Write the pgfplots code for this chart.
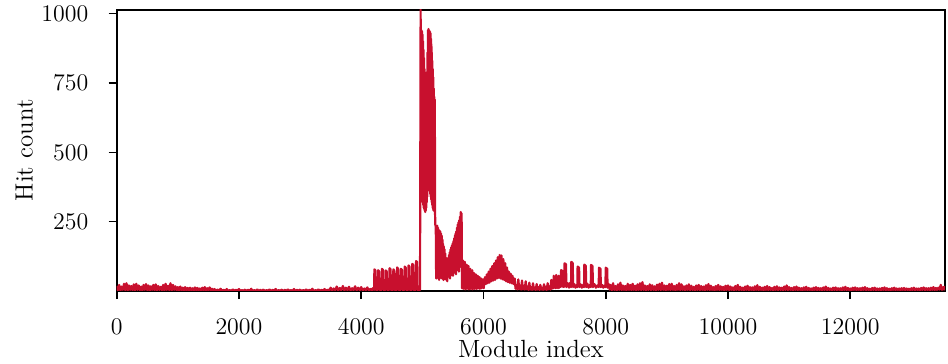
\documentclass[border=0pt]{standalone}
\usepackage{pgfplots}
\pgfplotsset{compat=1.18}
\definecolor{hitred}{RGB}{200,16,46}
\begin{document}
\begin{tikzpicture}
\path[use as bounding box] (-58.35bp,-36.5bp) rectangle (415.65bp,145.5bp);
\begin{axis}[
  at={(0,0)}, anchor=south west, scale only axis,
  width=414.15bp, height=140.75bp,
  xmin=0, xmax=13550, ymin=0, ymax=1015,
  xtick={0,2000,4000,6000,8000,10000,12000},
  ytick={250,500,750,1000},
  xtick pos=left, ytick pos=left,
  tick align=outside, major tick length=4bp,
  tick style={black, line width=0.8bp},
  axis line style={black, line width=1bp},
  scaled x ticks=false, scaled y ticks=false,
  x tick label style={/pgf/number format/1000 sep={}},
  y tick label style={/pgf/number format/1000 sep={}},
  tick label style={font=\fontsize{12}{14}\selectfont},
  label style={font=\fontsize{12.5}{15}\selectfont},
  xticklabel style={anchor=north, inner sep=0pt, yshift=-10bp},
  yticklabel style={anchor=east, inner sep=0pt, xshift=-10bp},
  xlabel={Module index}, ylabel={Hit count},
  xlabel style={at={(axis description cs:0.5,-0.238)}, anchor=base},
  ylabel style={at={(axis description cs:-0.1014,0.5)}, anchor=base, rotate=0},
]
\addplot[hitred, line width=1.1bp, line join=round, mark=none] table {
0 18
20 3
40 22
60 2
80 16
100 4
120 26
140 3
160 28
180 2
200 20
220 4
240 18
260 3
280 24
300 2
320 26
340 4
360 20
380 3
400 16
420 2
440 22
460 4
480 25
500 3
520 20
540 2
560 17
580 4
600 22
620 3
640 24
660 2
680 18
700 4
720 15
740 3
760 22
780 2
800 26
820 4
840 19
860 3
880 28
900 2
920 22
940 4
960 17
980 3
1000 14
1020 2
1040 16
1060 3
1080 12
1100 2
1120 14
1140 3
1160 11
1180 2
1200 12
1220 3
1240 10
1260 2
1280 13
1300 3
1320 11
1340 2
1360 9
1380 3
1400 12
1420 2
1440 14
1460 3
1480 10
1500 2
1520 13
1540 3
1560 8
1580 2
1600 7
1625 1
1650 5
1675 1
1700 8
1725 0
1750 4
1775 1
1800 7
1825 0
1850 3
1875 1
1900 6
1925 0
1950 4
1975 1
2000 7
2025 0
2050 3
2075 1
2100 5
2125 0
2150 4
2175 1
2200 8
2225 0
2250 3
2275 1
2300 6
2325 0
2350 4
2375 1
2400 5
2425 0
2450 3
2475 1
2500 6
2525 0
2550 4
2575 1
2600 7
2625 0
2650 3
2675 1
2700 5
2725 0
2750 4
2775 1
2800 6
2825 0
2850 3
2875 1
2900 7
2925 0
2950 4
2975 1
3000 5
3025 0
3050 3
3075 1
3100 6
3125 0
3150 4
3175 1
3200 8
3225 0
3250 3
3275 1
3300 6
3325 0
3350 4
3375 1
3400 7
3425 0
3450 5
3475 1
3500 12
3525 2
3550 9
3575 3
3600 16
3625 2
3650 11
3675 3
3700 18
3725 2
3750 12
3775 3
3800 15
3825 2
3850 10
3875 3
3900 17
3925 2
3950 12
3975 3
4000 14
4025 2
4050 9
4075 3
4100 13
4125 2
4150 8
4175 3
4190 10
4210 4
4216 78
4232 74
4238 4
4272 4
4278 75
4294 70
4300 4
4334 4
4340 80
4356 76
4362 4
4396 4
4402 74
4418 70
4424 4
4458 4
4464 82
4480 78
4486 4
4520 4
4526 78
4542 74
4548 4
4582 4
4588 85
4604 80
4610 4
4644 4
4650 80
4666 76
4672 4
4706 4
4712 88
4728 84
4734 4
4768 4
4774 92
4790 88
4796 4
4830 4
4836 98
4852 93
4858 4
4892 4
4898 108
4914 104
4920 4
4945 3
4962 4
4972 1015
4976 330
4980 930
4984 340
4988 940
4992 360
4996 935
5000 330
5004 925
5008 320
5012 900
5016 310
5020 870
5024 300
5028 840
5032 295
5036 800
5040 290
5044 770
5048 285
5052 760
5056 290
5060 750
5064 300
5068 760
5072 320
5076 790
5080 340
5084 860
5088 360
5092 940
5096 380
5100 945
5104 400
5108 940
5112 390
5116 938
5120 370
5124 935
5128 350
5132 930
5136 340
5140 910
5144 330
5148 890
5152 320
5156 860
5160 310
5164 830
5168 300
5172 800
5176 295
5180 770
5184 290
5188 730
5192 300
5196 700
5200 320
5204 690
5208 280
5212 240
5220 230
5226 45
5232 232
5238 50
5244 235
5250 48
5256 228
5262 50
5268 220
5274 40
5280 218
5286 45
5292 215
5298 55
5304 208
5310 50
5316 200
5322 45
5328 185
5334 48
5340 170
5346 40
5352 160
5358 45
5364 150
5370 50
5376 135
5382 42
5388 120
5394 40
5400 112
5406 35
5412 110
5418 50
5424 120
5430 55
5436 130
5442 50
5448 140
5454 45
5460 150
5466 55
5472 158
5478 60
5484 165
5490 58
5496 172
5502 55
5508 180
5514 65
5520 190
5526 70
5532 200
5538 65
5544 208
5550 60
5556 215
5562 75
5568 228
5574 80
5580 240
5586 75
5592 248
5598 70
5604 255
5610 85
5616 268
5622 90
5628 285
5636 120
5642 280
5650 10
5658 60
5665 110
5672 8
5680 15
5688 70
5695 105
5702 6
5710 12
5718 60
5725 95
5732 8
5740 18
5748 55
5755 90
5762 6
5770 10
5778 50
5785 80
5792 7
5800 15
5808 45
5815 75
5822 6
5830 12
5838 40
5845 65
5852 8
5860 18
5868 38
5875 60
5882 7
5890 14
5898 35
5905 55
5912 9
5920 20
5928 32
5935 50
5942 8
5950 16
5958 30
5965 45
5972 10
5980 20
5988 28
5995 42
6003 10
6010 22
6025 50
6040 25
6055 60
6070 28
6085 70
6100 30
6115 80
6130 35
6145 90
6160 38
6175 100
6190 40
6205 110
6220 45
6235 122
6250 48
6265 130
6280 45
6295 128
6310 42
6325 115
6340 40
6355 100
6370 35
6385 85
6400 32
6415 70
6430 30
6445 62
6460 28
6475 55
6490 25
6510 45
6525 8
6540 22
6555 6
6570 42
6585 7
6600 20
6615 5
6630 38
6645 6
6660 18
6675 5
6690 35
6705 6
6720 16
6735 4
6750 30
6765 5
6780 14
6795 4
6810 28
6825 5
6840 12
6855 4
6870 25
6885 5
6900 14
6915 4
6930 22
6945 5
6960 12
6975 4
6990 24
7005 5
7020 15
7035 4
7050 28
7065 6
7080 16
7095 5
7110 40
7120 8
7130 20
7140 10
7150 55
7160 12
7170 25
7180 10
7190 58
7200 12
7210 22
7220 10
7230 55
7240 12
7250 28
7265 15
7270 75
7294 72
7300 15
7322 15
7327 100
7350 96
7356 14
7380 28
7400 12
7420 30
7432 14
7437 105
7460 100
7466 14
7485 25
7505 12
7525 22
7535 14
7540 88
7564 84
7570 14
7590 24
7610 12
7630 22
7645 14
7650 95
7674 90
7680 14
7700 26
7720 12
7740 22
7755 14
7760 94
7784 90
7790 14
7815 25
7840 12
7865 20
7885 14
7890 84
7914 80
7920 14
7940 22
7960 12
7980 20
7995 14
8000 84
8024 80
8030 12
8050 25
8065 5
8080 22
8100 3
8120 28
8140 4
8160 18
8180 2
8200 24
8220 4
8240 30
8260 3
8280 20
8300 4
8320 18
8340 2
8360 26
8380 4
8400 22
8420 3
8440 26
8460 4
8480 19
8500 2
8520 24
8540 4
8560 28
8580 3
8600 32
8620 4
8640 20
8660 2
8680 18
8700 4
8720 24
8740 3
8760 21
8780 4
8800 17
8820 2
8840 23
8860 4
8880 26
8900 3
8920 30
8940 4
8960 20
8980 2
9000 19
9020 4
9040 25
9060 3
9080 26
9100 4
9120 18
9140 2
9160 22
9180 4
9200 28
9220 3
9240 24
9260 4
9280 17
9300 2
9320 20
9340 4
9360 24
9380 3
9400 19
9420 4
9440 15
9460 2
9480 20
9500 4
9520 22
9540 3
9560 18
9580 4
9600 16
9620 2
9640 21
9660 4
9680 25
9700 3
9720 19
9740 4
9760 14
9780 2
9800 18
9820 4
9840 22
9860 3
9880 17
9900 4
9920 15
9940 2
9960 19
9980 4
10000 20
10020 3
10040 16
10060 4
10080 13
10100 2
10120 18
10140 4
10160 22
10180 3
10200 15
10220 4
10240 12
10260 2
10280 16
10300 4
10320 19
10340 3
10360 14
10380 4
10400 13
10420 2
10440 17
10460 4
10480 21
10500 3
10520 15
10540 4
10560 12
10580 2
10600 15
10620 4
10640 18
10660 3
10680 14
10700 4
10720 11
10740 2
10760 15
10780 4
10800 17
10820 3
10840 13
10860 4
10880 12
10900 2
10920 16
10940 4
10960 20
10980 3
11000 14
11020 4
11040 11
11060 2
11080 14
11100 4
11120 16
11140 3
11160 12
11180 4
11200 10
11220 2
11240 13
11260 4
11280 15
11300 3
11320 11
11340 4
11360 9
11380 2
11400 12
11420 4
11440 14
11460 3
11480 11
11500 4
11520 10
11540 2
11560 13
11580 4
11600 16
11620 3
11640 11
11660 4
11680 9
11700 2
11720 12
11740 4
11760 13
11780 3
11800 10
11820 4
11840 10
11860 2
11880 13
11900 4
11920 15
11940 3
11960 11
11980 4
12000 9
12020 2
12040 12
12060 4
12080 13
12100 3
12120 10
12140 4
12160 10
12180 2
12200 12
12220 4
12240 14
12260 3
12280 10
12300 4
12320 8
12340 2
12360 11
12380 4
12400 12
12420 3
12440 9
12460 4
12480 9
12500 2
12520 11
12540 4
12560 13
12580 3
12600 10
12620 4
12640 8
12660 2
12680 10
12700 4
12720 12
12740 3
12760 9
12780 4
12800 9
12820 2
12840 10
12860 4
12880 11
12900 3
12920 9
12940 4
12960 8
12980 2
13000 10
13020 4
13040 12
13060 3
13080 9
13100 4
13120 9
13140 2
13160 11
13180 4
13200 13
13220 3
13240 10
13260 4
13280 10
13300 2
13320 12
13340 4
13360 14
13380 3
13400 11
13420 4
13440 12
13460 5
13480 22
13500 4
13520 14
13535 5
13550 18
};
\end{axis}
\end{tikzpicture}
\end{document}
